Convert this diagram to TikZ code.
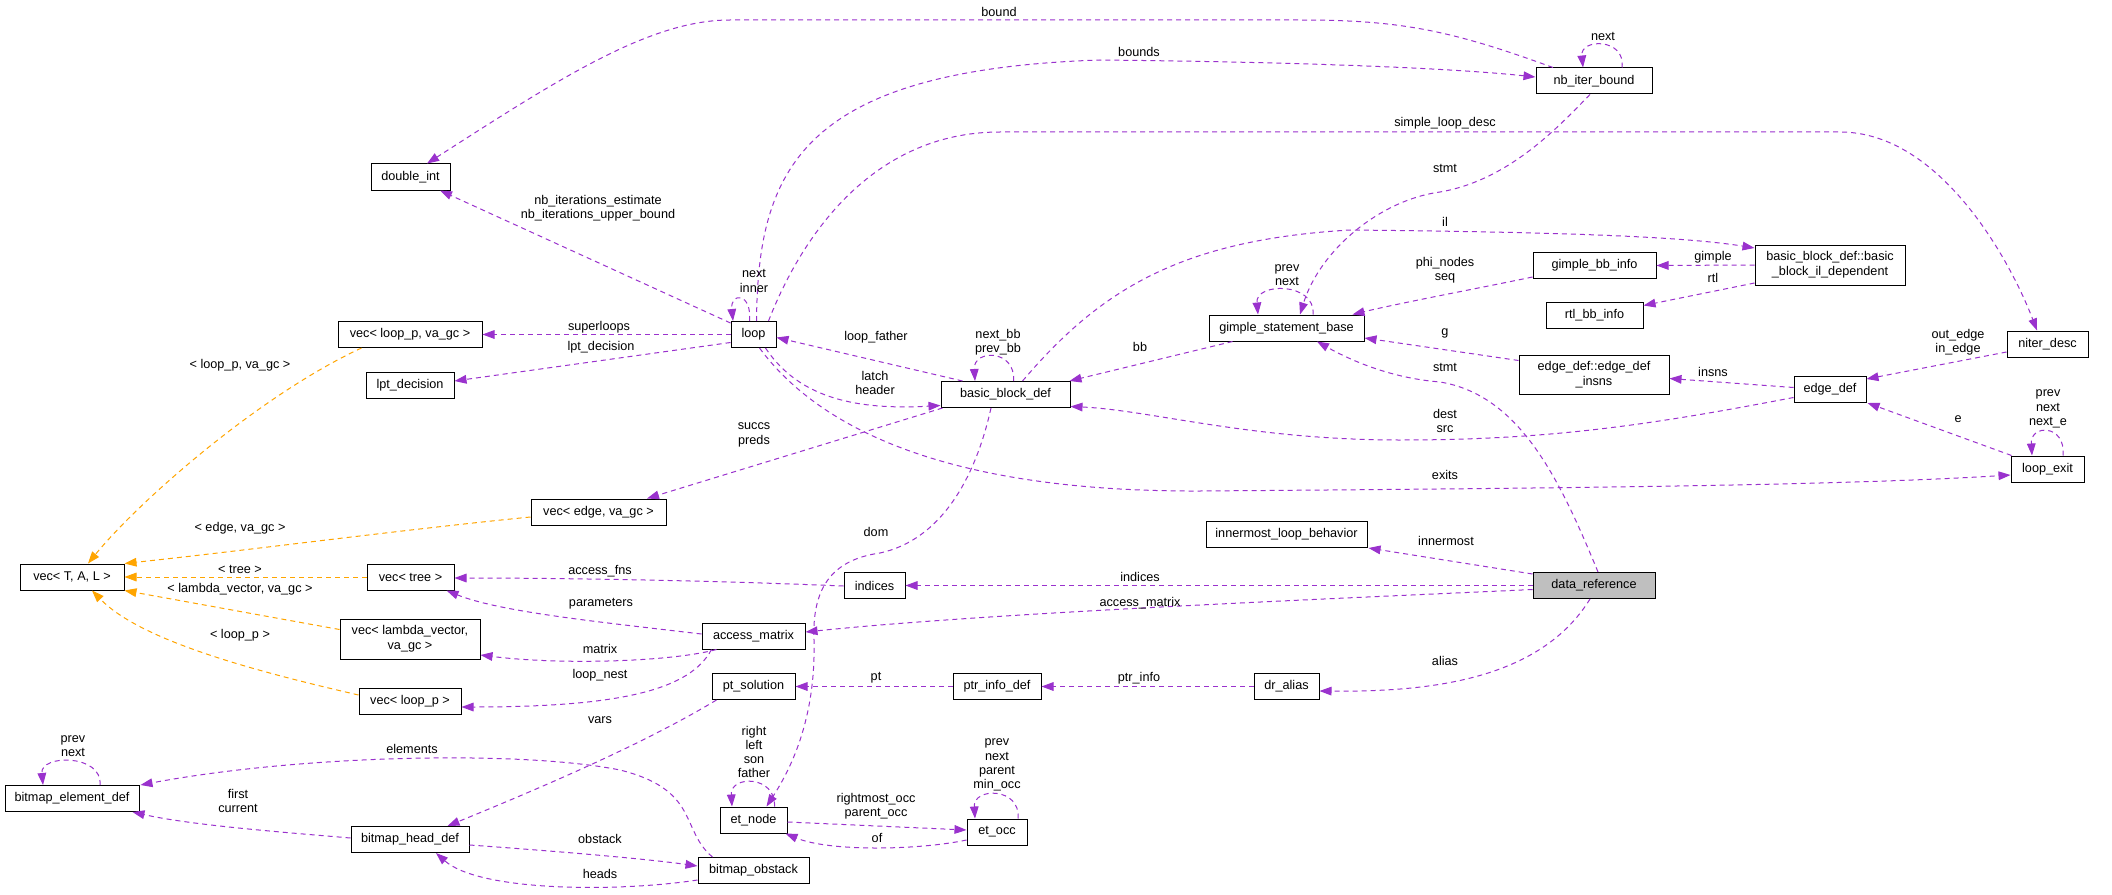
\documentclass[tikz,border=0pt]{standalone}
\usepackage{fontspec}
\setmainfont{Liberation Sans}
\usetikzlibrary{arrows.meta,calc}
\definecolor{edgep}{HTML}{9A32CD}
\definecolor{edgeo}{HTML}{FFA500}
\definecolor{drfill}{HTML}{BFBFBF}
\begin{document}
\begin{tikzpicture}[x=0.75pt,y=-0.75pt,
 box/.style={draw=black,line width=0.75pt,fill=white,inner sep=1pt,minimum height=19.5pt,font=\fontsize{9.5}{11}\selectfont,align=center},
 lbl/.style={inner sep=0pt,font=\fontsize{9.5}{10.7}\selectfont,align=center},
 pe/.style={draw=edgep,line width=0.75pt,dash pattern=on 3.75pt off 3pt,-{Triangle[length=9pt,width=6.5pt]}},
 oe/.style={draw=edgeo,line width=0.75pt,dash pattern=on 3.75pt off 3pt,-{Triangle[length=9pt,width=6.5pt]}}]
\fill[white] (0,0) rectangle (2112,895);
\useasboundingbox (0,0) rectangle (2112,895);
% nodes
\node[box,minimum width=59.25pt] (dbl) at (410.5,177) {double\_int};
\node[box,minimum width=87pt] (nbib) at (1594,81) {nb\_iter\_bound};
\node[box,minimum width=33.75pt] (loop) at (753.5,334.5) {loop};
\node[box,minimum width=108pt] (vlp) at (410,334.5) {vec< loop\_p, va\_gc >};
\node[box,minimum width=66pt] (lpt) at (410,385) {lpt\_decision};
\node[box,minimum width=96.75pt] (bbd) at (1005.5,394.5) {basic\_block\_def};
\node[box,minimum width=116.25pt] (gsb) at (1286.5,328) {gimple\_statement\_base};
\node[box,minimum width=92.25pt] (gbb) at (1594.5,265.5) {gimple\_bb\_info};
\node[box,minimum width=112.5pt,minimum height=30pt] (bbil) at (1830,265) {basic\_block\_def::basic\\ \_block\_il\_dependent};
\node[box,minimum width=72.75pt] (rtl) at (1594.5,315.5) {rtl\_bb\_info};
\node[box,minimum width=112.5pt,minimum height=29.25pt] (edi) at (1594,374.5) {edge\_def::edge\_def\\ \_insns};
\node[box,minimum width=54pt] (edf) at (1830,389.5) {edge\_def};
\node[box,minimum width=60.75pt] (nd) at (2047.5,344) {niter\_desc};
\node[box,minimum width=54.75pt] (le) at (2047.5,469) {loop\_exit};
\node[box,minimum width=101.25pt] (veg) at (598.5,512) {vec< edge, va\_gc >};
\node[box,minimum width=78pt] (vtal) at (72,577) {vec< T, A, L >};
\node[box,minimum width=65.25pt] (vt) at (410.5,577) {vec< tree >};
\node[box,minimum width=45.75pt] (ind) at (874.5,585.5) {indices};
\node[box,minimum width=120.75pt] (ilb) at (1286.5,534.5) {innermost\_loop\_behavior};
\node[box,minimum width=91.5pt,fill=drfill] (dr) at (1594,585.5) {data\_reference};
\node[box,minimum width=105pt,minimum height=30pt] (vlv) at (410,639) {vec< lambda\_vector,\\ va\_gc >};
\node[box,minimum width=76.5pt] (vlp2) at (410,701.5) {vec< loop\_p >};
\node[box,minimum width=77.25pt] (am) at (753.5,636) {access\_matrix};
\node[box,minimum width=62.25pt] (pts) at (753.5,686.5) {pt\_solution};
\node[box,minimum width=66pt] (pid) at (997,686.5) {ptr\_info\_def};
\node[box,minimum width=48.75pt] (dra) at (1286.5,686.5) {dr\_alias};
\node[box,minimum width=100.5pt] (bed) at (72,798.5) {bitmap\_element\_def};
\node[box,minimum width=88.5pt] (bhd) at (410,839.5) {bitmap\_head\_def};
\node[box,minimum width=50.25pt] (etn) at (753.5,820) {et\_node};
\node[box,minimum width=45pt] (eto) at (997,832) {et\_occ};
\node[box,minimum width=83.25pt] (bob) at (753.5,870.5) {bitmap\_obstack};
% edges
\draw[pe] ($(nbib.north)+(-41,0)$) .. controls (1450,30) and (1400,20) .. (1300,20) -- (730,20) .. controls (650,20) and (560,78) .. ($(dbl.north)+(16.5,0)$);
\draw[pe] ($(nbib.north)+(28,0)$) .. controls (1626,38) and (1580,38) .. ($(nbib.north)+(-11,0)$);
\draw[pe] ($(loop.north)+(3,0)$) .. controls (758,170) and (800,70) .. (1100,60) .. controls (1300,62) and (1450,68) .. ($(nbib.west)+(0,-4)$);
\draw[pe] ($(loop.north east)+(-8,0)$) .. controls (800,240) and (870,132) .. (1000,132) -- (1840,132) .. controls (1940,132) and (2010,260) .. ($(nd.north)+(-10.5,0)$);
\draw[pe] ($(loop.north)+(-4,0)$) .. controls (752,292) and (730,292) .. ($(loop.north)+(-20.5,0)$);
\draw[pe] ($(nbib.south)+(-4,0)$) .. controls (1560,125) and (1510,180) .. (1440,192) .. controls (1380,200) and (1320,250) .. ($(gsb.north)+(13.5,0)$);
\draw[pe] ($(gsb.north)+(26.5,0)$) .. controls (1316,282) and (1255,282) .. ($(gsb.north)+(-28.5,0)$);
\draw[pe] ($(bbd.north)+(17,0)$) .. controls (1100,290) and (1180,240) .. (1350,230) .. controls (1550,232) and (1680,236) .. ($(bbil.west)+(0,-17)$);
\draw[pe] ($(bbd.north)+(8,0)$) .. controls (1016,349) and (973,349) .. ($(bbd.north)+(-30.5,0)$);
\draw[pe] (bbil.west) -- (gbb.east);
\draw[pe] ($(bbil.west)+(0,18)$) -- ($(rtl.east)+(0,-10)$);
\draw[pe] ($(gbb.south west)+(0,-2)$) .. controls (1480,288) and (1400,303) .. ($(gsb.north east)+(-12,0)$);
\draw[pe] ($(gsb.south west)+(24,0)$) -- ($(bbd.north east)+(-1,0)$);
\draw[pe] ($(edi.west)+(0,-14)$) -- ($(gsb.east)+(0,10)$);
\draw[pe] ($(dr.north)+(4,0)$) .. controls (1560,480) and (1520,395) .. (1440,382) .. controls (1390,378) and (1350,360) .. ($(gsb.south)+(30.5,0)$);
\draw[pe] ($(edf.west)+(0,8)$) .. controls (1650,425) and (1550,440) .. (1400,440) .. controls (1250,440) and (1150,410) .. ($(bbd.east)+(0,12)$);
\draw[pe] ($(edf.west)+(0,-2)$) -- ($(edi.east)+(0,4)$);
\draw[pe] ($(nd.west)+(0,8)$) -- ($(edf.north east)+(0,3)$);
\draw[pe] ($(le.north west)+(1,0)$) -- ($(edf.south east)+(1,0)$);
\draw[pe] ($(le.north)+(15.5,0)$) .. controls (2066,424) and (2030,424) .. ($(le.north)+(-15.5,0)$);
\draw[pe] ($(loop.south)+(6,0)$) .. controls (820,430) and (950,492) .. (1200,491) .. controls (1600,488) and (1850,485) .. ($(le.west)+(0,6)$);
\draw[pe] ($(bbd.north west)+(22,0)$) -- ($(loop.east)+(0,3)$);
\draw[pe] ($(loop.south)+(12,0)$) .. controls (800,400) and (860,410) .. ($(bbd.west)+(0,11)$);
\draw[pe] (loop.west) -- (vlp.east);
\draw[pe] ($(loop.west)+(0,8)$) -- ($(lpt.east)+(0,-4)$);
\draw[pe] ($(loop.north west)+(0,2)$) -- ($(dbl.south)+(29.5,0)$);
\draw[pe] ($(bbd.south west)+(2,0)$) -- ($(veg.north)+(48.5,0)$);
\draw[pe] ($(bbd.south)+(-14.5,0)$) .. controls (975,480) and (940,540) .. (880,553) .. controls (830,560) and (812,590) .. (814,640) .. controls (816,720) and (790,770) .. ($(etn.north)+(13,0)$);
\draw[pe] ($(etn.north)+(21,0)$) .. controls (776,775) and (730,775) .. ($(etn.north)+(-21.5,0)$);
\draw[pe] ($(etn.east)+(0,2)$) -- ($(eto.west)+(0,-2)$);
\draw[pe] ($(eto.west)+(0,8)$) .. controls (920,850) and (830,852) .. ($(etn.south east)+(-2,0)$);
\draw[pe] ($(eto.north)+(21,0)$) .. controls (1021,787) and (973,787) .. ($(eto.north)+(-22,0)$);
\draw[pe] (pid.west) -- (pts.east);
\draw[pe] (dra.west) -- (pid.east);
\draw[pe] ($(dr.south)+(-4,0)$) .. controls (1540,680) and (1430,692) .. ($(dra.east)+(0,4.5)$);
\draw[pe] ($(dr.north west)+(0,2)$) -- ($(ilb.south east)+(1,0)$);
\draw[pe] (dr.west) -- (ind.east);
\draw[pe] ($(dr.west)+(0,4)$) .. controls (1350,598) and (1000,612) .. ($(am.east)+(0,-4)$);
\draw[pe] ($(ind.west)+(0,0.5)$) .. controls (700,580) and (550,578) .. ($(vt.east)+(0,1)$);
\draw[pe] ($(am.west)+(0,-2)$) .. controls (600,622) and (500,612) .. ($(vt.south east)+(-8,0)$);
\draw[pe] ($(am.south west)+(15,0)$) .. controls (670,662) and (560,665) .. ($(vlv.east)+(0,16)$);
\draw[pe] ($(am.south west)+(10,0)$) .. controls (690,690) and (620,707) .. ($(vlp2.east)+(0,5.5)$);
\draw[pe] ($(pts.south west)+(5,0)$) .. controls (650,740) and (560,780) .. ($(bhd.north east)+(-22,0)$);
\draw[pe] ($(bob.north west)+(15,0)$) .. controls (680,830) and (700,790) .. (620,770) .. controls (520,750) and (300,755) .. ($(bed.north east)+(1,0)$);
\draw[pe] ($(bhd.west)+(0,-1.5)$) .. controls (280,832) and (190,825) .. ($(bed.south east)+(-7,0)$);
\draw[pe] ($(bed.north)+(28,0)$) .. controls (103,754) and (40,754) .. ($(bed.north)+(-29,0)$);
\draw[pe] ($(bhd.east)+(0,5.5)$) .. controls (540,850) and (640,858) .. ($(bob.west)+(0,-4.5)$);
\draw[pe] ($(bob.west)+(0,9.5)$) .. controls (620,892) and (480,892) .. ($(bhd.south)+(26,0)$);
\draw[oe] ($(vlp.south west)+(24,0)$) .. controls (260,395) and (140,500) .. ($(vtal.north)+(16,0)$);
\draw[oe] ($(veg.west)+(0,5)$) .. controls (400,530) and (250,550) .. (vtal.north east);
\draw[oe] (vt.west) -- (vtal.east);
\draw[oe] ($(vlv.north west)+(0,11)$) -- (vtal.south east);
\draw[oe] ($(vlp2.west)+(0,-6.5)$) .. controls (250,670) and (140,640) .. ($(vtal.south)+(20,0)$);
% labels
\node[lbl] (l1) at (999,12) {bound};
\node[lbl] (l2) at (1603,36) {next};
\node[lbl] (l3) at (1139,52) {bounds};
\node[lbl] (l4) at (1445,123) {simple\_loop\_desc};
\node[lbl] (l5) at (754,281) {next\\inner};
\node[lbl] (l6) at (1445,168) {stmt};
\node[lbl] (l7) at (598,208) {nb\_iterations\_estimate\\nb\_iterations\_upper\_bound};
\node[lbl] (l8) at (1445,222) {il};
\node[lbl] (l9) at (1713,257) {gimple};
\node[lbl] (l10) at (1713,278) {rtl};
\node[lbl] (l11) at (1445,270) {phi\_nodes\\seq};
\node[lbl] (l12) at (1287,275) {prev\\next};
\node[lbl] (l13) at (1140,347) {bb};
\node[lbl] (l14) at (1445,333) {g};
\node[lbl] (l15) at (1445,367) {stmt};
\node[lbl] (l16) at (1445,421) {dest\\src};
\node[lbl] (l17) at (1713,372) {insns};
\node[lbl] (l18) at (1958,342) {out\_edge\\in\_edge};
\node[lbl] (l19) at (1958,419) {e};
\node[lbl] (l20) at (2048,409) {prev\\next\\next\_e};
\node[lbl] (l21) at (1445,475) {exits};
\node[lbl] (l22) at (876,337) {loop\_father};
\node[lbl] (l23) at (998,342) {next\_bb\\prev\_bb};
\node[lbl] (l24) at (875,383) {latch\\header};
\node[lbl] (l25) at (599,327) {superloops};
\node[lbl] (l26) at (601,347) {lpt\_decision};
\node[lbl] (l27) at (754,435) {succs\\preds};
\node[lbl] (l28) at (876,532) {dom};
\node[lbl] (l29) at (754,752) {right\\left\\son\\father};
\node[lbl] (l30) at (876,806) {rightmost\_occ\\parent\_occ};
\node[lbl] (l31) at (877,838) {of};
\node[lbl] (l32) at (997,765) {prev\\next\\parent\\min\_occ};
\node[lbl] (l33) at (876,678) {pt};
\node[lbl] (l34) at (1139,678) {ptr\_info};
\node[lbl] (l35) at (1445,661) {alias};
\node[lbl] (l36) at (1446,541) {innermost};
\node[lbl] (l37) at (1140,577) {indices};
\node[lbl] (l38) at (1140,603) {access\_matrix};
\node[lbl] (l39) at (600,571) {access\_fns};
\node[lbl] (l40) at (601,604) {parameters};
\node[lbl] (l41) at (600,649) {matrix};
\node[lbl] (l42) at (600,675) {loop\_nest};
\node[lbl] (l43) at (600,720) {vars};
\node[lbl] (l44) at (412,749) {elements};
\node[lbl] (l45) at (238,801) {first\\current};
\node[lbl] (l46) at (73,746) {prev\\next};
\node[lbl] (l47) at (600,839) {obstack};
\node[lbl] (l48) at (600,874) {heads};
\node[lbl] (l49) at (240,365) {< loop\_p, va\_gc >};
\node[lbl] (l50) at (240,528) {< edge, va\_gc >};
\node[lbl] (l51) at (240,569) {< tree >};
\node[lbl] (l52) at (240,589) {< lambda\_vector, va\_gc >};
\node[lbl] (l53) at (240,635) {< loop\_p >};
\end{tikzpicture}
\end{document}
